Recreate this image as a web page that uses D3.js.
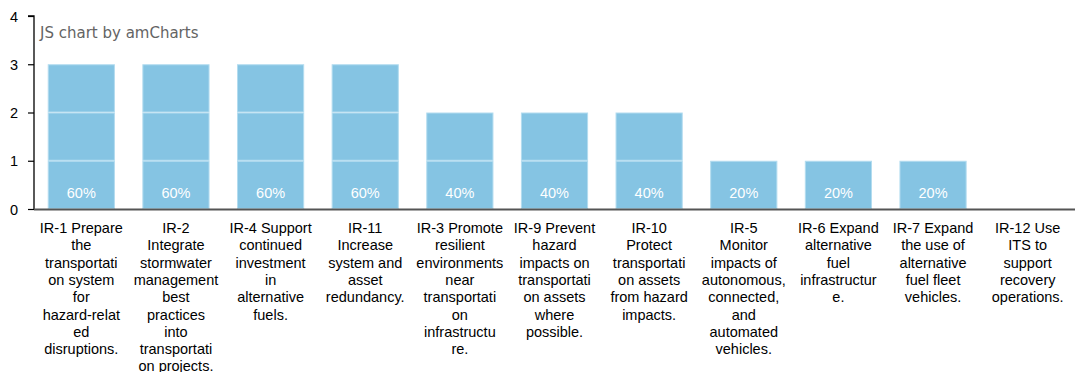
<!DOCTYPE html>
<html>
<head>
<meta charset="utf-8">
<script src="https://cdn.jsdelivr.net/npm/d3@7"></script>
<style>
  html, body { margin: 0; padding: 0; background: #fff; }
  svg { display: block; }
</style>
</head>
<body>
<svg id="chart" width="1075" height="372"></svg>
<script>
// Strategy labels, one array of lines per category (as wrapped under the axis)
const categoryLines = [
  ["IR-1 Prepare", "the", "transportati", "on system", "for", "hazard-relat", "ed", "disruptions."],
  ["IR-2", "Integrate", "stormwater", "management", "best", "practices", "into", "transportati", "on projects."],
  ["IR-4 Support", "continued", "investment", "in", "alternative", "fuels."],
  ["IR-11", "Increase", "system and", "asset", "redundancy."],
  ["IR-3 Promote", "resilient", "environments", "near", "transportati", "on", "infrastructu", "re."],
  ["IR-9 Prevent", "hazard", "impacts on", "transportati", "on assets", "where", "possible."],
  ["IR-10", "Protect", "transportati", "on assets", "from hazard", "impacts."],
  ["IR-5", "Monitor", "impacts of", "autonomous,", "connected,", "and", "automated", "vehicles."],
  ["IR-6 Expand", "alternative", "fuel", "infrastructur", "e."],
  ["IR-7 Expand", "the use of", "alternative", "fuel fleet", "vehicles."],
  ["IR-12 Use", "ITS to", "support", "recovery", "operations."]
];
const counts = [3, 3, 3, 3, 2, 2, 2, 1, 1, 1, 0];
const shareLabels = ["60%", "60%", "60%", "60%", "40%", "40%", "40%", "20%", "20%", "20%", ""];
const yTicks = [0, 1, 2, 3, 4];

const svg = d3.select("#chart");
const margin = { left: 34, right: 0, top: 16, bottom: 163 };
const W = 1075, H = 372;
const plotBottom = H - margin.bottom; // 209
const FONT = "Liberation Sans, Arial, sans-serif";

const x = d3.scaleBand().domain(d3.range(categoryLines.length))
  .range([margin.left, W]).paddingInner(0.29).paddingOuter(0.145);
const y = d3.scaleLinear().domain([0, 4]).range([plotBottom, margin.top]);

// Each bar is a stack of unit segments
const segments = [];
counts.forEach((c, i) => {
  for (let k = 0; k < c; k++) segments.push({ i, y0: k, y1: k + 1 });
});

svg.append("g").selectAll("rect").data(segments).join("rect")
  .attr("x", d => x(d.i) + 0.5)
  .attr("y", d => y(d.y1) + 0.5)
  .attr("width", x.bandwidth() - 1)
  .attr("height", d => y(d.y0) - y(d.y1) - 1)
  .attr("fill", "#85c4e3")
  .attr("stroke", "#b3dcef")
  .attr("stroke-width", 1);

// Share labels inside the bottom segment
svg.append("g").selectAll("text").data(counts.map((c, i) => ({ c, i })).filter(d => d.c > 0))
  .join("text")
  .attr("x", d => x(d.i) + x.bandwidth() / 2)
  .attr("y", y(0) - 11)
  .attr("text-anchor", "middle")
  .attr("font-family", FONT)
  .attr("font-size", 14.5)
  .attr("fill", "#ffffff")
  .text(d => shareLabels[d.i]);

// Y axis
const yAxis = svg.append("g").attr("transform", `translate(${margin.left},0)`)
  .call(d3.axisLeft(y).tickValues(yTicks).tickFormat(d3.format("d")).tickSize(6).tickPadding(10));
yAxis.select(".domain").attr("stroke", "#000").attr("stroke-width", 1.3)
  .attr("d", `M-6,${y(4)}H0V${y(0)}`);
yAxis.selectAll(".tick line").attr("stroke", "#000").attr("stroke-width", 1.2);
yAxis.selectAll(".tick text").attr("font-family", FONT)
  .attr("font-size", 14.5).attr("fill", "#000").attr("dy", "0.35em");

// X axis baseline
svg.append("line")
  .attr("x1", margin.left).attr("x2", W)
  .attr("y1", plotBottom + 0.5).attr("y2", plotBottom + 0.5)
  .attr("stroke", "#555").attr("stroke-width", 2);

// Category labels, centred under each band
const labels = svg.append("g");
categoryLines.forEach((lines, i) => {
  const cx = x(i) + x.bandwidth() / 2;
  const t = labels.append("text")
    .attr("x", cx)
    .attr("y", plotBottom + 24)
    .attr("text-anchor", "middle")
    .attr("font-family", FONT)
    .attr("font-size", 14.5)
    .attr("fill", "#000");
  lines.forEach((line, k) => {
    t.append("tspan").attr("x", cx).attr("dy", k === 0 ? 0 : 17.3).text(line);
  });
});

// Credit text
svg.append("text")
  .attr("x", 40).attr("y", 38)
  .attr("font-family", "DejaVu Sans, Verdana, sans-serif")
  .attr("font-size", 15)
  .attr("fill", "#646464")
  .text("JS chart by amCharts");
</script>
</body>
</html>
